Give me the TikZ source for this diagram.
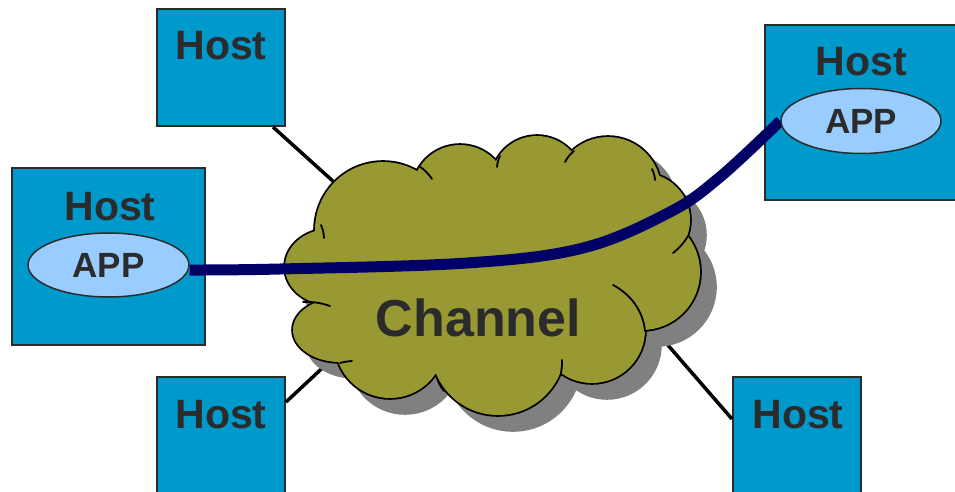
\documentclass[tikz,border=0pt]{standalone}
\usepackage{fontspec}
\setmainfont{Liberation Sans}
\usetikzlibrary{shapes.geometric}
\definecolor{hostblue}{HTML}{0099CC}
\definecolor{appblue}{HTML}{99CCFF}
\definecolor{txtgray}{HTML}{2B2B2B}
\definecolor{cloudolive}{HTML}{999933}
\definecolor{shadowgray}{HTML}{808080}
\definecolor{navyline}{HTML}{000066}
\pgfdeclarelayer{bg}
\pgfdeclarelayer{mid}
\pgfsetlayers{bg,mid,main}
\def\mycloudpath{
 (383,230) circle[radius=68pt]
 (460,193) circle[radius=48pt]
 (537,182) circle[radius=46pt]
 (608,190) circle[radius=53pt]
 (643,220) circle[radius=47pt]
 (642,272) circle[radius=58pt]
 (592,330) circle[radius=53pt]
 (498,348) circle[radius=67pt]
 (390,343) circle[radius=55pt]
 (340,330) ellipse[x radius=47pt, y radius=32pt]
 (330,267) ellipse[x radius=45pt, y radius=38pt]
 (490,270) ellipse[x radius=150pt, y radius=90pt]
}
\begin{document}
\begin{tikzpicture}[x=1pt,y=-1pt,
  hostbox/.style={draw=txtgray, line width=2pt, fill=hostblue, inner sep=0pt},
  hosttext/.style={anchor=base, inner sep=0pt, text=txtgray, font=\fontsize{41}{41}\selectfont\bfseries},
  appnode/.style={ellipse, draw=txtgray, line width=1.5pt, fill=appblue, inner sep=0pt, text=txtgray, font=\fontsize{35}{35}\selectfont\bfseries},
  chantext/.style={inner sep=0pt, text=txtgray, font=\fontsize{52}{52}\selectfont\bfseries},
  link/.style={draw=black, line width=3.5pt},
  notch/.style={draw=black, line width=1.8pt, line cap=round},
  pipe/.style={draw=navyline, line width=11pt},
]
\clip (0,0) rectangle (955,492);

\begin{pgfonlayer}{bg}
% host boxes
\node[hostbox, minimum width=128pt, minimum height=117pt] (h1) at (221,67.5) {};
\node[hostbox, minimum width=193pt, minimum height=177pt] (h2) at (108.5,256.5) {};
\node[hostbox, minimum width=193pt, minimum height=175pt] (h3) at (861.5,112.5) {};
\node[hostbox, minimum width=128pt, minimum height=118pt] (h4) at (221,436) {};
\node[hostbox, minimum width=128pt, minimum height=118pt] (h5) at (797,436) {};
\node[hosttext] (t1) at ([yshift=-52pt]h1.north) {Host};
\node[hosttext] (t2) at ([xshift=1.5pt,yshift=-53pt]h2.north) {Host};
\node[hosttext] (t3) at ([yshift=-52pt]h3.north) {Host};
\node[hosttext] (t4) at ([yshift=-52pt]h4.north) {Host};
\node[hosttext] (t5) at ([xshift=1pt,yshift=-52pt]h5.north) {Host};

% links to the cloud
\coordinate (e1) at (345,192);
\coordinate (e4) at (332,359);
\coordinate (e5) at (660,336);
\draw[link] ([xshift=-13pt]h1.south east) -- (e1);
\draw[link] ([yshift=-26pt]h4.north east) -- (e4);
\draw[link] ([yshift=-43pt]h5.north west) -- (e5);

% cloud
\path[fill=shadowgray, draw=shadowgray, line width=3.6pt, shift={(15,15)}] \mycloudpath;
\draw[black, line width=3.6pt] \mycloudpath;
\fill[cloudolive] \mycloudpath;
\draw[notch] (321,225) to[bend left=10] (324,238);
\draw[notch] (419,166) to[bend left=10] (432,179);
\draw[notch] (500,156) to[bend right=10] (497,167);
\draw[notch] (565,162) to[bend left=10] (574,151);
\draw[notch] (652,169) to[bend left=10] (655,180);
\draw[notch] (673,253) to[bend right=10] (688,236);
\draw[notch] (613,285) .. controls (630,294) and (643,310) .. (645,331);
\draw[notch] (562,360) to[bend left=5] (561,373);
\draw[notch] (437,378) to[bend right=10] (444,391);
\draw[notch] (340,363) to[bend left=5] (352,361);
\draw[notch] (303,302) to[bend left=10] (330,306);
\node[chantext] (ch) at (478.5,318) {Channel};
\end{pgfonlayer}

% applications
\node[appnode, minimum width=161pt, minimum height=64pt] (a1) at (108.5,265) {APP};
\node[appnode, minimum width=160pt, minimum height=65pt] (a2) at (861,121) {APP};

\coordinate (s) at ([yshift=-5pt]a1.east);
\begin{pgfonlayer}{mid}
\draw[pipe] plot[smooth, tension=0.6] coordinates {(s) (280,269) (467,263) (583,248) (670,212) (720,177) (a2.west)};
\end{pgfonlayer}
\end{tikzpicture}
\end{document}
